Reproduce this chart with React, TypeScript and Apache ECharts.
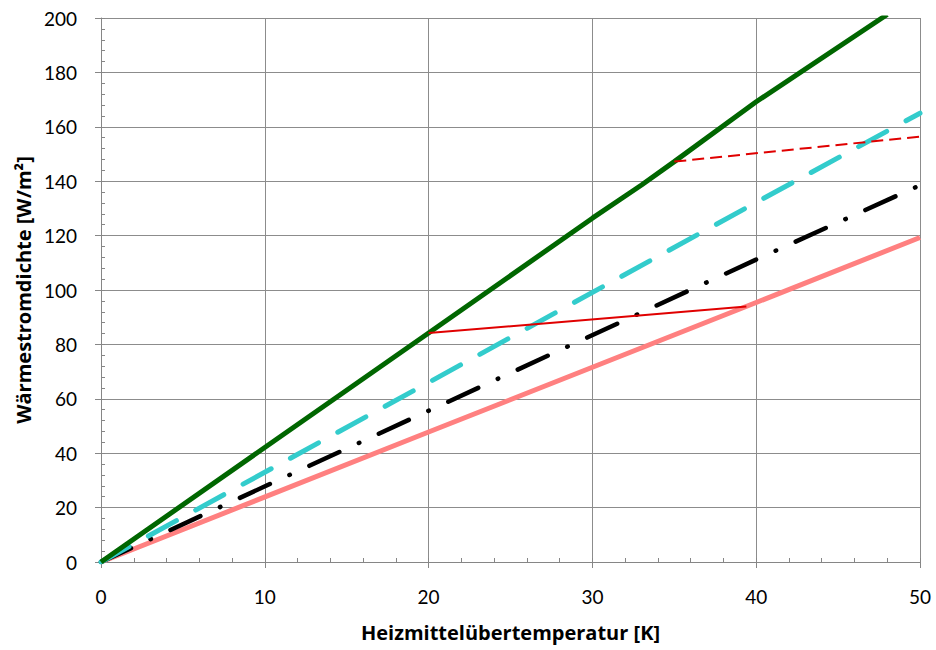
import React, { useEffect, useRef } from "react";
import * as echarts from "echarts";

const xTicks = [0, 10, 20, 30, 40, 50];
const yTicks = [0, 20, 40, 60, 80, 100, 120, 140, 160, 180, 200];

const greenData: [number, number][] = [
  [0, 0], [20, 84.2], [30, 126.4], [33, 138.6], [35, 147.2], [40, 169.2], [48, 201.3],
];
const cyanData: [number, number][] = [[0, 0], [20, 66], [40, 132.2], [50, 165]];
const blackData: [number, number][] = [[0, 0], [20, 55.6], [40, 111.2], [50, 138.5]];
const pinkData: [number, number][] = [[0, 0], [20, 47.8], [40, 95.4], [50, 119.3]];
const redSolidData: [number, number][] = [[20, 84.2], [39.4, 93.9]];
const redDashedData: [number, number][] = [[35, 147.2], [50, 156.4]];

const FONT = "Lato, 'Open Sans', sans-serif";
const NAME_FONT = "'Open Sans', Lato, sans-serif";

export default function App() {
  const ref = useRef<HTMLDivElement>(null);
  useEffect(() => {
    if (!ref.current) return;
    const chart = echarts.init(ref.current, undefined, { renderer: "svg" });
    const gridCol = "#8c8c8c";
    const axisCol = "#868686";
    chart.setOption({
      animation: false,
      backgroundColor: "#fff",
      textStyle: { fontFamily: FONT },
      grid: { left: 101, right: 16, top: 18, bottom: 88, containLabel: false },
      xAxis: [
        {
          type: "value",
          min: xTicks[0],
          max: xTicks[xTicks.length - 1],
          interval: 10,
          name: "Heizmittelübertemperatur [K]",
          nameLocation: "middle",
          nameGap: 60,
          nameTextStyle: { fontSize: 20, fontWeight: "bold", color: "#000", fontFamily: NAME_FONT },
          axisLine: { show: true, lineStyle: { color: axisCol, width: 1 } },
          axisTick: { show: true, inside: false, length: 6, lineStyle: { color: axisCol } },
          axisLabel: { fontSize: 19, color: "#000", margin: 25, fontFamily: FONT },
          splitLine: { show: true, lineStyle: { color: gridCol, width: 1 } },
        },
        {
          type: "value",
          min: 0,
          max: 50,
          interval: 2,
          position: "bottom",
          axisLine: { show: false },
          axisTick: { show: true, inside: true, length: 4, lineStyle: { color: axisCol } },
          axisLabel: { show: false },
          splitLine: { show: false },
        },
      ],
      yAxis: [
        {
          type: "value",
          min: yTicks[0],
          max: yTicks[yTicks.length - 1],
          interval: 20,
          name: "Wärmestromdichte [W/m²]",
          nameLocation: "middle",
          nameGap: 64,
          nameTextStyle: { fontSize: 20, fontWeight: "bold", color: "#000", fontFamily: NAME_FONT },
          axisLine: { show: true, lineStyle: { color: axisCol, width: 1 } },
          axisTick: { show: true, inside: false, length: 6, lineStyle: { color: axisCol } },
          axisLabel: { fontSize: 19, color: "#000", margin: 24, fontFamily: FONT },
          splitLine: { show: true, lineStyle: { color: gridCol, width: 1 } },
        },
        {
          type: "value",
          min: 0,
          max: 200,
          interval: 4,
          position: "left",
          axisLine: { show: false },
          axisTick: { show: true, inside: true, length: 4, lineStyle: { color: axisCol } },
          axisLabel: { show: false },
          splitLine: { show: false },
        },
      ],
      series: [
        {
          type: "line",
          data: pinkData,
          showSymbol: false,
          lineStyle: { color: "#ff8080", width: 5 },
          clip: true,
        },
        {
          type: "line",
          data: blackData,
          showSymbol: false,
          lineStyle: { color: "#000", width: 4.5, type: [33, 21.5, 0.5, 21.5], cap: "round" },
          clip: true,
        },
        {
          type: "line",
          data: cyanData,
          showSymbol: false,
          lineStyle: { color: "#33cccc", width: 5, type: [32, 22], cap: "round" },
          clip: true,
        },
        {
          type: "line",
          data: greenData,
          showSymbol: false,
          lineStyle: { color: "#006600", width: 5 },
          clip: true,
        },
        {
          type: "line",
          data: redSolidData,
          showSymbol: false,
          lineStyle: { color: "#e00000", width: 2 },
          clip: true,
        },
        {
          type: "line",
          data: redDashedData,
          showSymbol: false,
          lineStyle: { color: "#e00000", width: 2, type: [12, 6] },
          clip: true,
        },
      ],
    });
    return () => chart.dispose();
  }, []);
  return (
    <div
      ref={ref}
      style={{ position: "fixed", left: 0, top: 0, width: 936, height: 650 }}
    />
  );
}
